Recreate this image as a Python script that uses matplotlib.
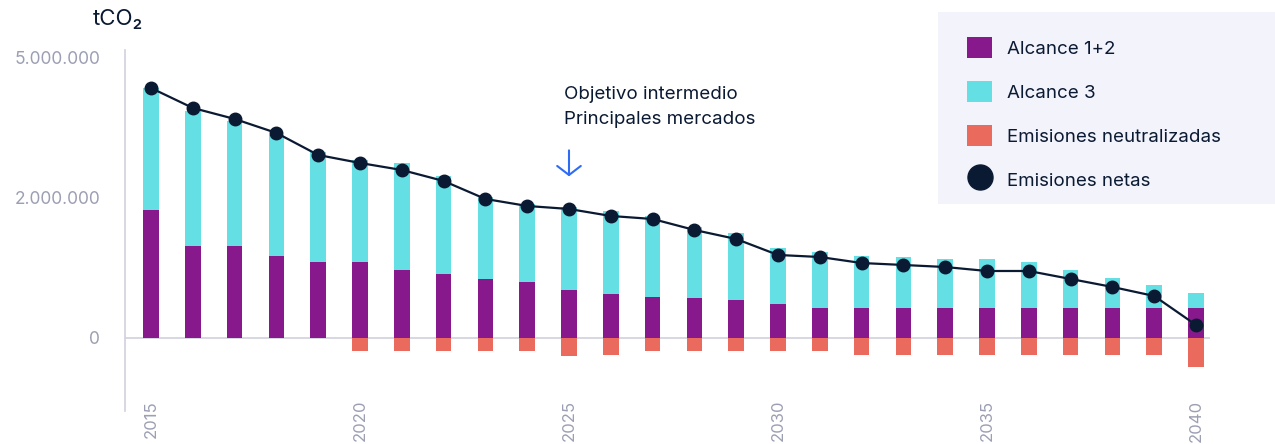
import matplotlib
matplotlib.use("Agg")
import matplotlib.pyplot as plt
from matplotlib.patches import Rectangle
from matplotlib.lines import Line2D
from matplotlib.patches import Patch
import numpy as np

plt.rcParams['font.family'] = ['Inter', 'DejaVu Sans']

# data (tCO2)
years = list(range(2015, 2041))
total = [3.571, 3.243, 3.100, 2.900, 2.657, 2.543, 2.500, 2.314, 2.014, 1.914,
         1.871, 1.814, 1.743, 1.586, 1.500, 1.286, 1.229, 1.171, 1.157, 1.129,
         1.129, 1.086, 0.971, 0.857, 0.757, 0.643]
alcance_12 = [1.829, 1.314, 1.314, 1.171, 1.086, 1.086, 0.971, 0.914, 0.843, 0.800,
              0.686, 0.629, 0.586, 0.571, 0.543, 0.486, 0.429, 0.429, 0.429, 0.429,
              0.429, 0.429, 0.429, 0.429, 0.429, 0.429]
neutralizadas = [0, 0, 0, 0, 0, -0.186, -0.186, -0.186, -0.186, -0.186,
                 -0.257, -0.243, -0.186, -0.186, -0.186, -0.186, -0.186, -0.25, -0.25, -0.25,
                 -0.25, -0.25, -0.25, -0.25, -0.25, -0.414]
netas = [3.571, 3.286, 3.129, 2.929, 2.614, 2.500, 2.400, 2.243, 1.986, 1.886,
         1.843, 1.743, 1.700, 1.543, 1.414, 1.186, 1.157, 1.071, 1.043, 1.014,
         0.957, 0.957, 0.843, 0.729, 0.600, 0.186]

ytick_vals = [0, 2e6, 4e6]
ytick_labels = ['0', '2.000.000', '5.000.000']
xtick_years = [2015, 2020, 2025, 2030, 2035, 2040]

a12 = np.array(alcance_12) * 1e6
a3 = (np.array(total) - np.array(alcance_12)) * 1e6
neu = np.array(neutralizadas) * 1e6
net = np.array(netas) * 1e6

c_purple = '#87198c'
c_cyan = '#64e0e4'
c_salmon = '#ea6b5e'
c_navy = '#0b1a33'
c_gray = '#9c9fb3'
c_line = '#cfd1dc'

fig = plt.figure(figsize=(12.75, 4.44), dpi=100)
ax = fig.add_axes([125 / 1275, 1 - 411 / 444, (1210 - 125) / 1275, (411 - 50) / 444])

w = 0.37
ax.bar(years, a12, width=w, color=c_purple, zorder=2)
ax.bar(years, a3, width=w, bottom=a12, color=c_cyan, zorder=2)
ax.bar(years, neu, width=w, color=c_salmon, zorder=2)
ax.axhline(0, color=c_line, lw=1.2, zorder=1)
ax.plot(years, net, color=c_navy, lw=1.6, marker='o', markersize=9, zorder=3)

ax.set_xlim(2014.378, 2040.335)
ax.set_ylim(-1.043e6, 4.114e6)

for s in ['top', 'right', 'bottom']:
    ax.spines[s].set_visible(False)
ax.spines['left'].set_color(c_line)
ax.spines['left'].set_linewidth(1.2)

ax.set_yticks(ytick_vals)
ax.set_yticklabels(ytick_labels)
ax.tick_params(axis='y', length=0, pad=18, labelsize=12.5, labelcolor=c_gray)
ax.set_xticks(xtick_years)
ax.set_xticklabels([str(y) for y in xtick_years], rotation=90)
ax.tick_params(axis='x', length=0, pad=-8, labelsize=12, labelcolor=c_gray)

# annotation
ax.text(2024.87, 3.60e6, 'Objetivo intermedio\nPrincipales mercados', ha='left',
        va='top', fontsize=13.5, color=c_navy, linespacing=1.62)
ax.annotate('', xy=(2025, 2.27e6), xytext=(2025, 2.72e6),
            arrowprops=dict(arrowstyle='->,head_length=0.65,head_width=0.85',
                            color='#2f6cf6', lw=1.5))

fig.text(93 / 1275, 1 - 19 / 444, 'tCO₂', fontsize=16, color=c_navy,
         ha='left', va='center')

# legend panel
fig.patches.append(Rectangle((938 / 1275, 1 - 204 / 444), (1275 - 938) / 1275,
                             (204 - 12) / 444, transform=fig.transFigure,
                             facecolor='#f2f3fb', edgecolor='none', zorder=0))
handles = [Patch(facecolor=c_purple), Patch(facecolor=c_cyan), Patch(facecolor=c_salmon),
           Line2D([], [], marker='o', color=c_navy, lw=0, markersize=18)]
labels = ['Alcance 1+2', 'Alcance 3', 'Emisiones neutralizadas', 'Emisiones netas']
fig.legend(handles, labels, loc='upper left', bbox_to_anchor=(958 / 1275, 1 - 28 / 444),
           frameon=False, fontsize=13.5, labelcolor=c_navy, handlelength=1.3,
           handleheight=1.3, handletextpad=0.8, labelspacing=1.25, borderpad=0)

fig.savefig('out.png', dpi=100)
